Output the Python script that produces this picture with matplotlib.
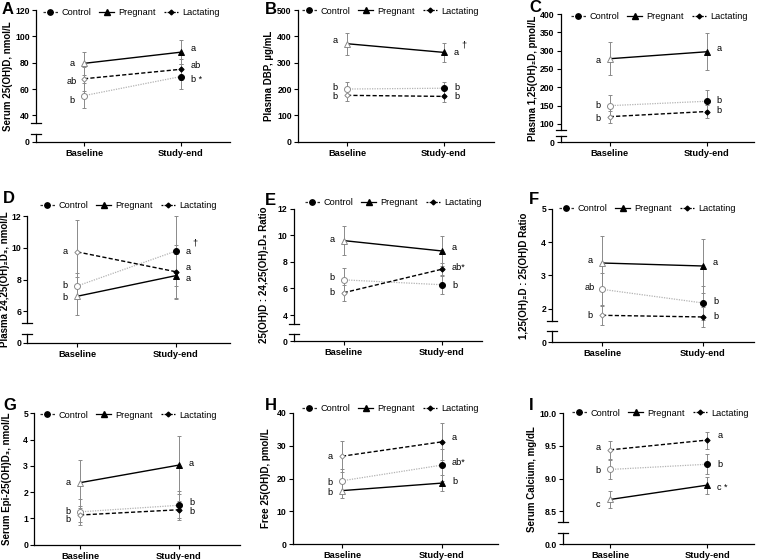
import matplotlib
matplotlib.use("Agg")
import matplotlib.pyplot as plt
from matplotlib.lines import Line2D

W, H = 757, 560
plt.rcParams['font.family'] = ['Liberation Sans', 'DejaVu Sans']

groups = ["Control", "Pregnant", "Lactating"]
timepoints = ["Baseline", "Study-end"]

# valores: [Control, Pregnant, Lactating] x [Baseline, Study-end]
a_means = [[55, 69.5], [79.5, 88], [67.8, 75]]
a_sd = [[9.7, 9.8], [8.5, 9.3], [9, 8]]
a_letters = [["b", "b *"], ["a", "a"], ["ab", "ab"]]

b_means = [[200, 203], [372, 339], [176, 172]]
b_sd = [[26, 25], [42, 36], [21, 23]]
b_letters = [["b", "b"], ["a", "a†"], ["b", "b"]]

c_means = [[150, 162], [278, 297], [120, 134]]
c_sd = [[29, 32], [45, 50], [16, 19]]
c_letters = [["b", "b"], ["a", "a"], ["b", "b"]]

d_means = [[7.6, 9.8], [6.95, 8.25], [9.75, 8.5]]
d_sd = [[0.8, 2.2], [1.2, 1.4], [2.0, 1.7]]
d_letters = [["b", "a†"], ["b", "a"], ["a", "a"]]

e_means = [[6.65, 6.28], [9.6, 8.82], [5.68, 7.45]]
e_sd = [[0.9, 0.7], [1.1, 1.1], [0.6, 0.5]]
e_letters = [["b", "b"], ["a", "a"], ["b", "ab*"]]

f_means = [[2.58, 2.17], [3.37, 3.28], [1.8, 1.75]]
f_sd = [[0.5, 0.5], [0.82, 0.8], [0.3, 0.3]]
f_letters = [["ab", "b"], ["a", "a"], ["b", "b"]]

g_means = [[1.25, 1.5], [2.36, 3.03], [1.13, 1.33]]
g_sd = [[0.5, 0.56], [0.88, 1.1], [0.27, 0.33]]
g_letters = [["b", "b"], ["a", "a"], ["b", "b"]]

h_means = [[19.3, 24.1], [16.3, 18.6], [26.8, 31.2]]
h_sd = [[3.6, 5], [2.4, 2.5], [4.8, 5.7]]
h_letters = [["b", "ab*"], ["b", "b"], ["a", "a"]]

i_means = [[9.14, 9.22], [8.68, 8.9], [9.44, 9.59]]
i_sd = [[0.15, 0.15], [0.13, 0.13], [0.14, 0.13]]
i_letters = [["b", "b"], ["c", "c *"], ["a", "a"]]

styles = {
    "Control": dict(color="#b3b3b3", ls=(0, (1, 1)), lw=0.9, marker="o", ms=4.3,
                    lcolor="#333333", lls=(0, (2, 1.2))),
    "Pregnant": dict(color="black", ls="-", lw=1.0, marker="^", ms=4.8,
                     lcolor="black", lls="-"),
    "Lactating": dict(color="black", ls=(0, (3, 1.6)), lw=1.0, marker="D", ms=2.7,
                      lcolor="black", lls=(0, (1.5, 1))),
}

# layout en pixeles
panels = [
    dict(tag="A", x=(36, 230, 84, 181), ytop=10, brk=(123.3, 134.3), yzero=141.7,
         ylim=(34, 120), yticks=[40, 60, 80, 100, 120], zero="0",
         legend=(43, 12.3), lab=(2, 9), ylx=8, ylabel="Serum 25(OH)D, nmol/L",
         means=a_means, sd=a_sd, letters=a_letters,
         ly=[[51.5, 67.5], [79.5, 90.5], [65.8, 77.8]]),
    dict(tag="B", x=(298, 494, 347, 444), ytop=10, brk=None, yzero=141.7,
         ylim=(0, 500), yticks=[0, 100, 200, 300, 400, 500], zero="0",
         legend=(302, 11), lab=(265, 10), ylx=268.7, ylabel="Plasma DBP, µg/mL",
         means=b_means, sd=b_sd, letters=b_letters,
         ly=[[204, 204], [384, 338], [172, 172]]),
    dict(tag="C", x=(560.7, 754, 609.7, 706.7), ytop=14, brk=(130, 136), yzero=142.3,
         ylim=(83.6, 400), yticks=[100, 150, 200, 250, 300, 350, 400], zero="0",
         legend=(571, 16.7), lab=(529, 7), ylx=533, ylabel="Plasma 1,25(OH)₂D, pmol/L",
         means=c_means, sd=c_sd, letters=c_letters,
         ly=[[150, 165], [272, 306], [116, 138]]),
    dict(tag="D", x=(27.3, 230, 77.3, 175.7), ytop=216.3, brk=(323, 333.7), yzero=342.7,
         ylim=(5.26, 12), yticks=[6, 8, 10, 12], zero="0",
         legend=(40, 205.3), lab=(3, 198), ylx=5, ylabel="Plasma 24,25(OH)₂D₃, nmol/L",
         means=d_means, sd=d_sd, letters=d_letters,
         ly=[[7.6, 9.8], [6.9, 8.08], [9.8, 8.74]]),
    dict(tag="E", x=(293.7, 482, 343.7, 442), ytop=208.7, brk=(323.7, 333.7), yzero=341.3,
         ylim=(3.35, 12), yticks=[4, 6, 8, 10, 12], zero="0",
         legend=(305, 202.7), lab=(265, 200), ylx=263.7, ylabel="25(OH)D : 24,25(OH)₂D₃ Ratio",
         means=e_means, sd=e_sd, letters=e_letters,
         ly=[[6.8, 6.2], [9.7, 9.1], [5.7, 7.6]]),
    dict(tag="F", x=(552.3, 754, 602, 703), ytop=208.7, brk=(321.3, 331.3), yzero=342,
         ylim=(1.62, 5), yticks=[2, 3, 4, 5], zero="0",
         legend=(559, 208.7), lab=(529, 199.7), ylx=524, ylabel="1,25(OH)₂D : 25(OH)D Ratio",
         means=f_means, sd=f_sd, letters=f_letters,
         ly=[[2.63, 2.2], [3.45, 3.4], [1.8, 1.75]]),
    dict(tag="G", x=(34.3, 240, 80, 179), ytop=413.3, brk=None, yzero=544.7,
         ylim=(0, 5), yticks=[0, 1, 2, 3, 4, 5], zero="0",
         legend=(40, 415), lab=(3, 405.7), ylx=7.3, ylabel="Serum Epi-25(OH)D₃, nmol/L",
         means=g_means, sd=g_sd, letters=g_letters,
         ly=[[1.28, 1.6], [2.35, 3.1], [0.95, 1.27]]),
    dict(tag="H", x=(292.7, 498, 342, 442), ytop=413, brk=None, yzero=544,
         ylim=(0, 40), yticks=[0, 10, 20, 30, 40], zero="0",
         legend=(302, 408.3), lab=(265, 405.7), ylx=266, ylabel="Free 25(OH)D, pmol/L",
         means=h_means, sd=h_sd, letters=h_letters,
         ly=[[18.8, 24.8], [15.6, 19], [26.8, 32.5]]),
    dict(tag="I", x=(563.3, 754, 610, 707.3), ytop=413.3, brk=(521.7, 533), yzero=544,
         ylim=(8.34, 10.0), yticks=[8.5, 9.0, 9.5, 10.0], zero="0.0",
         legend=(572, 413), lab=(529, 405), ylx=532, ylabel="Serum Calcium, mg/dL",
         means=i_means, sd=i_sd, letters=i_letters,
         ly=[[9.12, 9.21], [8.6, 8.86], [9.48, 9.66]]),
]

fig = plt.figure(figsize=(W / 100, H / 100), dpi=100)


def box(x0, x1, y0, y1):
    return [x0 / W, 1 - y1 / H, (x1 - x0) / W, (y1 - y0) / H]


def style_axis(ax):
    ax.patch.set_alpha(0)
    for sp in ["top", "right"]:
        ax.spines[sp].set_visible(False)
    for sp in ["left", "bottom"]:
        ax.spines[sp].set_linewidth(0.9)
    ax.tick_params(axis="y", length=3, width=0.8, pad=1.5, labelsize=6.2)
    ax.tick_params(axis="x", length=3, width=0.8, pad=2, labelsize=6.7)


for p in panels:
    xl, xr, b, s = p["x"]
    unit = s - b
    xlim = ((xl - b) / unit, (xr - b) / unit)
    brk = p["brk"]
    ybot = brk[0] if brk else p["yzero"]
    ax = fig.add_axes(box(xl, xr, p["ytop"], ybot))
    style_axis(ax)
    ax.set_xlim(xlim)
    ax.set_ylim(p["ylim"])
    ax.set_yticks(p["yticks"])
    if p["tag"] == "I":
        ax.set_yticklabels(["%.1f" % v for v in p["yticks"]], fontweight="bold")
    else:
        ax.set_yticklabels([str(v) for v in p["yticks"]], fontweight="bold")

    if brk:
        ax.spines["bottom"].set_visible(False)
        ax.set_xticks([])
        low = fig.add_axes(box(xl, xr, brk[1], p["yzero"]))
        style_axis(low)
        low.set_xlim(xlim)
        low.set_ylim(0, 1)
        low.set_yticks([0])
        low.set_yticklabels([p["zero"]], fontweight="bold")
        xax = low
        hw = 5 / (xr - xl)
        ax.plot([-hw, hw], [0, 0], transform=ax.transAxes, color="black", lw=0.9, clip_on=False)
        low.plot([-hw, hw], [1, 1], transform=low.transAxes, color="black", lw=0.9, clip_on=False)
    else:
        xax = ax
    xax.set_xticks([0, 1])
    xax.set_xticklabels(timepoints, fontweight="bold")

    for i, g in enumerate(groups):
        st = styles[g]
        m = p["means"][i]
        e = p["sd"][i]
        eb = ax.errorbar([0, 1], m, yerr=e, fmt="none", ecolor="#8a8a8a",
                         elinewidth=0.7, capsize=1.6, capthick=0.7, zorder=2)
        for art in list(eb.lines[1]) + list(eb.lines[2]):
            art.set_clip_on(False)
        ax.plot([0, 1], m, color=st["color"], ls=st["ls"], lw=st["lw"], zorder=3)
        ax.plot([0], m[:1], ls="none", marker=st["marker"], ms=st["ms"], mfc="white",
                mec="#8a8a8a", mew=0.7, zorder=4, clip_on=False)
        ax.plot([1], m[1:], ls="none", marker=st["marker"], ms=st["ms"], mfc="black",
                mec="black", mew=0.7, zorder=4, clip_on=False)
        for j in range(2):
            txt = p["letters"][i][j]
            yy = p["ly"][i][j]
            dag = txt.endswith("†")
            if dag:
                txt = txt[:-1]
            if j == 0:
                ax.annotate(txt, (0, yy), xytext=(-12, 0), textcoords="offset pixels",
                            ha="center", va="center", fontsize=6.6, annotation_clip=False)
            else:
                ax.annotate(txt, (1, yy), xytext=(10, 0), textcoords="offset pixels",
                            ha="left", va="center", fontsize=6.6, annotation_clip=False)
            if dag:
                ax.annotate("†", (1, yy), xytext=(17, 8), textcoords="offset pixels",
                            ha="left", va="center", fontsize=6.6, annotation_clip=False)

    handles = [Line2D([], [], color=styles[g]["lcolor"], ls=styles[g]["lls"], lw=0.9,
                      marker=styles[g]["marker"], ms=styles[g]["ms"] * 0.9,
                      mfc="black", mec="black") for g in groups]
    lx, ly = p["legend"]
    fig.legend(handles, groups, loc="center left", bbox_to_anchor=(lx / W, 1 - ly / H),
               ncol=3, frameon=False, fontsize=6.6, handlelength=1.6, handletextpad=0.4,
               columnspacing=0.9, borderpad=0, borderaxespad=0)

    tx, ty = p["lab"]
    fig.text(tx / W, 1 - ty / H, p["tag"], fontsize=12, fontweight="bold",
             ha="left", va="center")
    yc = (p["ytop"] + p["yzero"]) / 2
    fig.text(p["ylx"] / W, 1 - yc / H, p["ylabel"], rotation=90, fontsize=7,
             fontweight="bold", ha="center", va="center")

fig.savefig("out.png", dpi=100)
